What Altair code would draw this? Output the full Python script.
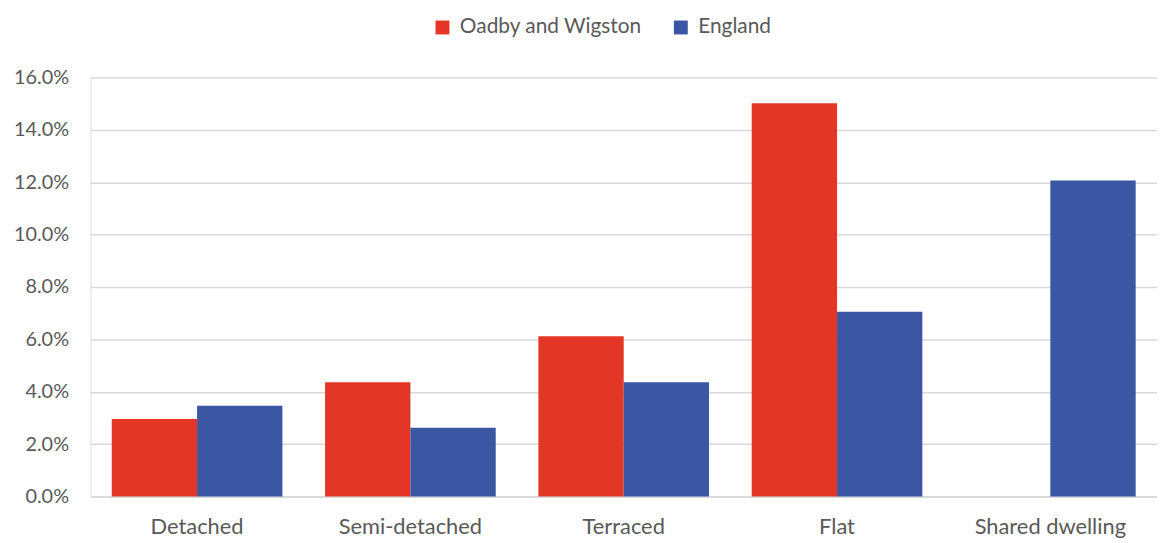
import altair as alt
import pandas as pd

categories = ["Detached", "Semi-detached", "Terraced", "Flat", "Shared dwelling"]
series = ["Oadby and Wigston", "England"]
oadby = [0.0296, 0.0436, 0.0612, 0.1501, None]
england = [0.0346, 0.0262, 0.0436, 0.0705, 0.1206]
colors = ["#E43626", "#3B56A3"]

rows = []
for c, a, b in zip(categories, oadby, england):
    rows.append({"cat": c, "series": series[0], "val": a})
    rows.append({"cat": c, "series": series[1], "val": b})
df = pd.DataFrame(rows)

FONT = "Lato"
TXT = "#595959"

chart = alt.Chart(df).mark_bar().encode(
    x=alt.X("cat:N", sort=categories, title=None,
            scale=alt.Scale(paddingInner=0.2, paddingOuter=0.1),
            axis=alt.Axis(labelAngle=0, labelFontSize=22, labelColor=TXT, labelFont=FONT,
                          ticks=False, domainColor="#D9D9D9", domainWidth=1.5, labelPadding=20)),
    xOffset=alt.XOffset("series:N", sort=series, scale=alt.Scale(domain=series)),
    y=alt.Y("val:Q", title=None,
            scale=alt.Scale(domain=[0, 0.16], nice=False),
            axis=alt.Axis(format=".1%", values=[i * 0.02 for i in range(9)],
                          labelFontSize=20, labelColor=TXT, labelFont=FONT,
                          ticks=False, domain=False, gridColor="#D9D9D9", gridWidth=1.5,
                          labelPadding=22)),
    color=alt.Color("series:N", sort=series,
                    scale=alt.Scale(domain=series, range=colors),
                    legend=alt.Legend(title=None, orient="none", direction="horizontal",
                                      legendX=344, legendY=-61,
                                      symbolType="square", symbolSize=196,
                                      symbolStrokeWidth=0, labelLimit=400,
                                      labelFontSize=21, labelColor=TXT, labelFont=FONT,
                                      columnPadding=28, labelOffset=7)),
).properties(
    width=1074, height=422,
    autosize=alt.AutoSizeParams(type="none"),
    padding={"left": 83, "top": 68, "right": 0, "bottom": 44},
).configure_view(stroke=None).configure(background="white")

chart.save("out.html", embed_options={"renderer": "svg", "actions": False})
